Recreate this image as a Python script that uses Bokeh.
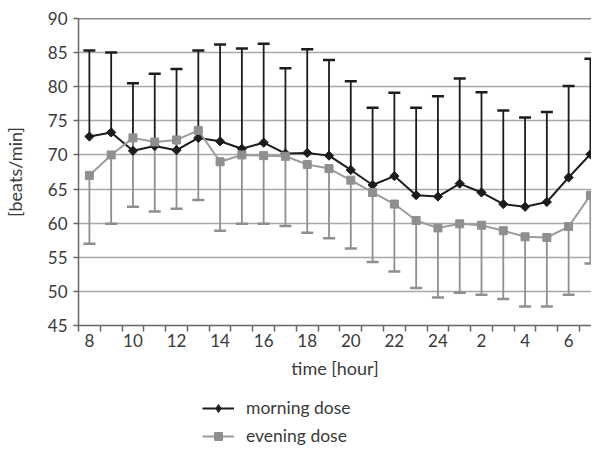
import math
from bokeh.plotting import figure
from bokeh.layouts import column
from bokeh.models import (ColumnDataSource, Range1d, FixedTicker, Whisker, TeeHead,
                          Legend, LegendItem, Span)
from bokeh.embed import file_html
from bokeh.resources import INLINE

# ---- data ----
hours = ["8", "9", "10", "11", "12", "13", "14", "15", "16", "17", "18", "19",
         "20", "21", "22", "23", "24", "1", "2", "3", "4", "5", "6", "7"]
morning_mean = [72.7, 73.3, 70.6, 71.3, 70.7, 72.5, 72.0, 70.9, 71.8, 70.2, 70.3, 69.9,
                67.8, 65.6, 66.9, 64.1, 63.9, 65.8, 64.5, 62.8, 62.4, 63.1, 66.7, 70.1]
morning_upper = [85.3, 85.0, 80.5, 81.9, 82.6, 85.3, 86.2, 85.6, 86.3, 82.7, 85.5, 83.9,
                 80.8, 76.9, 79.1, 76.9, 78.6, 81.2, 79.2, 76.5, 75.5, 76.3, 80.1, 84.1]
evening_mean = [67.0, 70.0, 72.5, 71.9, 72.2, 73.6, 69.0, 70.0, 69.9, 69.8, 68.6, 68.0,
                66.3, 64.5, 62.8, 60.4, 59.3, 59.9, 59.7, 58.9, 58.0, 57.9, 59.5, 64.1]
evening_lower = [57.0, 59.9, 62.4, 61.7, 62.1, 63.4, 58.9, 59.9, 59.9, 59.6, 58.6, 57.8,
                 56.3, 54.3, 52.9, 50.5, 49.1, 49.8, 49.5, 48.9, 47.8, 47.8, 49.5, 54.1]
y_ticks = [45, 50, 55, 60, 65, 70, 75, 80, 85, 90]
series_names = ["morning dose", "evening dose"]

FONT = "Lato"
TXT = "#3a3a3a"
BLACK = "#1c1c1c"
GRAY = "#8f8f8f"
GRAY_LINE = "#9c9c9c"

idx = list(range(len(hours)))
src = ColumnDataSource(dict(x=idx, m=morning_mean, mu=morning_upper,
                            e=evening_mean, el=evening_lower))

p = figure(frame_width=513, frame_height=307, output_backend="svg", toolbar_location=None,
           x_range=Range1d(-0.5, 23.05), y_range=Range1d(45, 90),
           min_border_left=78, min_border_right=0, min_border_top=18,
           min_border_bottom=60)
p.outline_line_color = None
p.background_fill_color = "white"

# grid
p.xgrid.grid_line_color = None
p.ygrid.grid_line_color = "#a8a8a8"
p.ygrid.grid_line_width = 1.5
p.ygrid.ticker = FixedTicker(ticks=y_ticks)
p.add_layout(Span(location=90, dimension="width", line_color=BLACK, line_width=1.5))

# axes
xa = p.xaxis[0]
xa.ticker = FixedTicker(ticks=idx[::2], minor_ticks=[i - 0.5 for i in range(len(hours) + 1)])
xa.major_label_overrides = {i: hours[i] for i in idx[::2]}
xa.major_tick_line_color = None
xa.major_tick_out = 0
xa.major_tick_in = 0
xa.minor_tick_line_color = "#666666"
xa.minor_tick_line_width = 1.5
xa.minor_tick_out = 6
xa.minor_tick_in = 0
xa.major_label_standoff = 2
xa.axis_line_color = "#666666"
xa.axis_line_width = 1.5
xa.axis_label = "time [hour]"
xa.axis_label_standoff = 7

ya = p.yaxis[0]
ya.ticker = FixedTicker(ticks=y_ticks)
ya.minor_tick_line_color = None
ya.major_tick_line_color = "#666666"
ya.major_tick_line_width = 1.5
ya.major_tick_out = 5
ya.major_tick_in = 0
ya.major_label_standoff = 6
ya.axis_line_color = "#666666"
ya.axis_line_width = 1.5
ya.axis_label = "[beats/min]"
ya.axis_label_standoff = 19

for ax in (xa, ya):
    ax.major_label_text_font = FONT
    ax.major_label_text_font_size = "17px"
    ax.major_label_text_color = TXT
    ax.axis_label_text_font = FONT
    ax.axis_label_text_font_size = "18px"
    ax.axis_label_text_font_style = "normal"
    ax.axis_label_text_color = TXT

# error bars
wm = Whisker(base="x", lower="m", upper="mu", source=src, dimension="height",
             line_color=BLACK, line_width=1.8,
             upper_head=TeeHead(size=12, line_color=BLACK, line_width=2.5),
             lower_head=None)
we = Whisker(base="x", lower="el", upper="e", source=src, dimension="height",
             line_color=GRAY, line_width=1.8,
             lower_head=TeeHead(size=12, line_color=GRAY, line_width=2.5),
             upper_head=None)
p.add_layout(wm)
p.add_layout(we)

# series
p.line("x", "m", source=src, line_color=BLACK, line_width=2)
p.scatter("x", "m", source=src, marker="square", angle=math.pi / 4, size=6.5,
          fill_color=BLACK, line_color=BLACK)
p.line("x", "e", source=src, line_color=GRAY_LINE, line_width=2)
p.scatter("x", "e", source=src, marker="square", size=8,
          fill_color=GRAY, line_color=GRAY)

# ---- legend strip below the chart ----
p2 = figure(width=591, height=64, output_backend="svg", toolbar_location=None,
            x_range=Range1d(0, 1), y_range=Range1d(0, 1),
            x_axis_type=None, y_axis_type=None,
            min_border_left=0, min_border_right=0, min_border_top=0, min_border_bottom=0)
p2.outline_line_color = None
p2.xgrid.grid_line_color = None
p2.ygrid.grid_line_color = None
off = ColumnDataSource(dict(x=[-10, -9], y=[-10, -9]))
l1 = p2.line("x", "y", source=off, line_color=BLACK, line_width=2)
s1 = p2.scatter("x", "y", source=off, marker="diamond", size=10,
                fill_color=BLACK, line_color=BLACK)
l2 = p2.line("x", "y", source=off, line_color=GRAY_LINE, line_width=2)
s2 = p2.scatter("x", "y", source=off, marker="square", size=8,
                fill_color=GRAY, line_color=GRAY)

legend = Legend(items=[LegendItem(label=series_names[0], renderers=[l1, s1]),
                       LegendItem(label=series_names[1], renderers=[l2, s2])],
                location=(124, 3))
legend.background_fill_alpha = 0
legend.border_line_color = None
legend.glyph_width = 32
legend.glyph_height = 20
legend.label_height = 20
legend.spacing = 7
legend.padding = 0
legend.margin = 0
legend.label_standoff = 12
legend.label_text_font = FONT
legend.label_text_font_size = "17.5px"
legend.label_text_color = TXT
p2.add_layout(legend)

layout = column(p, p2, spacing=0)
open("out.html", "w").write(file_html(layout, INLINE))
